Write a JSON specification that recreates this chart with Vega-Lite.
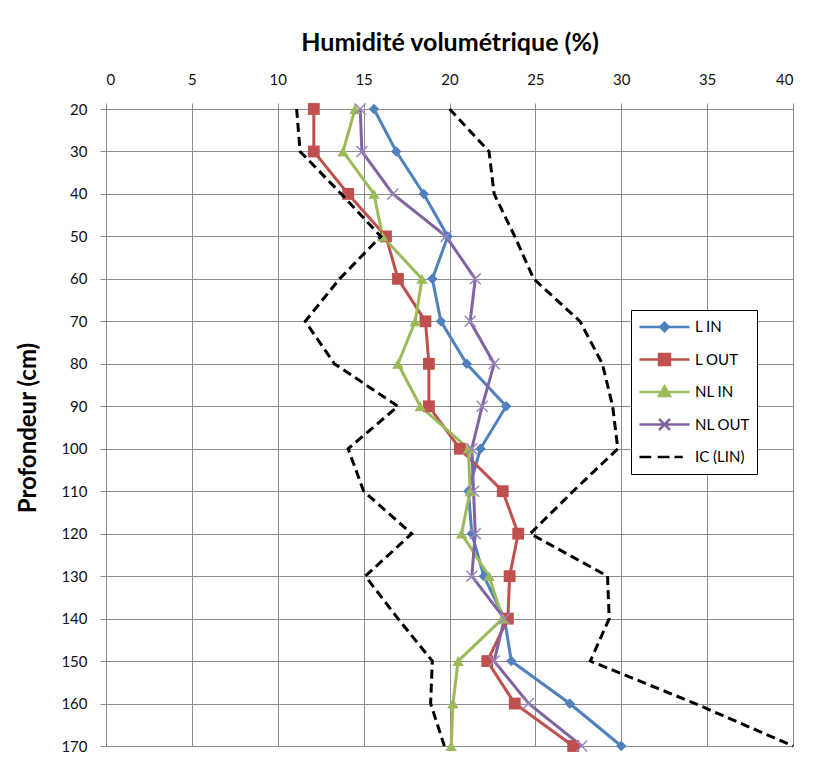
{
  "$schema": "https://vega.github.io/schema/vega-lite/v6.json",
  "width": 687,
  "height": 637,
  "autosize": "none",
  "padding": {"left": 106, "top": 109, "right": 20, "bottom": 33},
  "background": "white",
  "config": {
    "font": "Lato",
    "view": {"stroke": "#8c8c8c", "strokeWidth": 1},
    "axis": {
      "gridColor": "#8c8c8c", "gridWidth": 1, "gridOpacity": 1,
      "tickColor": "#8c8c8c", "tickWidth": 1, "domain": false,
      "labelFont": "Lato", "labelFontSize": 15, "labelColor": "#111111",
      "titleFont": "Lato", "titleFontSize": 24, "titleFontWeight": "bold", "titleColor": "#000000"
    },
    "legend": {
      "orient": "none", "legendX": 525, "legendY": 201,
      "strokeColor": "#000000", "fillColor": "white", "padding": 7,
      "symbolSize": 2500, "symbolStrokeWidth": 2.5, "symbolOpacity": 1,
      "labelFont": "Lato", "labelFontSize": 15, "labelColor": "#000000",
      "clipHeight": 20, "rowPadding": 12.5, "labelOffset": 4
    }
  },
  "datasets": {
    "obs": [
      {"depth": 20, "series": "L IN", "value": 15.6},
      {"depth": 30, "series": "L IN", "value": 16.9},
      {"depth": 40, "series": "L IN", "value": 18.5},
      {"depth": 50, "series": "L IN", "value": 19.9},
      {"depth": 60, "series": "L IN", "value": 19.0},
      {"depth": 70, "series": "L IN", "value": 19.5},
      {"depth": 80, "series": "L IN", "value": 21.0},
      {"depth": 90, "series": "L IN", "value": 23.3},
      {"depth": 100, "series": "L IN", "value": 21.8},
      {"depth": 110, "series": "L IN", "value": 21.1},
      {"depth": 120, "series": "L IN", "value": 21.3},
      {"depth": 130, "series": "L IN", "value": 22.0},
      {"depth": 140, "series": "L IN", "value": 23.2},
      {"depth": 150, "series": "L IN", "value": 23.6},
      {"depth": 160, "series": "L IN", "value": 27.0},
      {"depth": 170, "series": "L IN", "value": 30.0},
      {"depth": 20, "series": "L OUT", "value": 12.1},
      {"depth": 30, "series": "L OUT", "value": 12.1},
      {"depth": 40, "series": "L OUT", "value": 14.1},
      {"depth": 50, "series": "L OUT", "value": 16.3},
      {"depth": 60, "series": "L OUT", "value": 17.0},
      {"depth": 70, "series": "L OUT", "value": 18.6},
      {"depth": 80, "series": "L OUT", "value": 18.8},
      {"depth": 90, "series": "L OUT", "value": 18.8},
      {"depth": 100, "series": "L OUT", "value": 20.6},
      {"depth": 110, "series": "L OUT", "value": 23.1},
      {"depth": 120, "series": "L OUT", "value": 24.0},
      {"depth": 130, "series": "L OUT", "value": 23.5},
      {"depth": 140, "series": "L OUT", "value": 23.4},
      {"depth": 150, "series": "L OUT", "value": 22.2},
      {"depth": 160, "series": "L OUT", "value": 23.8},
      {"depth": 170, "series": "L OUT", "value": 27.2},
      {"depth": 20, "series": "NL IN", "value": 14.5},
      {"depth": 30, "series": "NL IN", "value": 13.8},
      {"depth": 40, "series": "NL IN", "value": 15.6},
      {"depth": 50, "series": "NL IN", "value": 16.1},
      {"depth": 60, "series": "NL IN", "value": 18.4},
      {"depth": 70, "series": "NL IN", "value": 18.0},
      {"depth": 80, "series": "NL IN", "value": 17.0},
      {"depth": 90, "series": "NL IN", "value": 18.3},
      {"depth": 100, "series": "NL IN", "value": 21.1},
      {"depth": 110, "series": "NL IN", "value": 21.2},
      {"depth": 120, "series": "NL IN", "value": 20.7},
      {"depth": 130, "series": "NL IN", "value": 22.3},
      {"depth": 140, "series": "NL IN", "value": 23.1},
      {"depth": 150, "series": "NL IN", "value": 20.5},
      {"depth": 160, "series": "NL IN", "value": 20.2},
      {"depth": 170, "series": "NL IN", "value": 20.1},
      {"depth": 20, "series": "NL OUT", "value": 14.8},
      {"depth": 30, "series": "NL OUT", "value": 14.9},
      {"depth": 40, "series": "NL OUT", "value": 16.7},
      {"depth": 50, "series": "NL OUT", "value": 19.8},
      {"depth": 60, "series": "NL OUT", "value": 21.5},
      {"depth": 70, "series": "NL OUT", "value": 21.2},
      {"depth": 80, "series": "NL OUT", "value": 22.6},
      {"depth": 90, "series": "NL OUT", "value": 21.9},
      {"depth": 100, "series": "NL OUT", "value": 21.3},
      {"depth": 110, "series": "NL OUT", "value": 21.4},
      {"depth": 120, "series": "NL OUT", "value": 21.5},
      {"depth": 130, "series": "NL OUT", "value": 21.3},
      {"depth": 140, "series": "NL OUT", "value": 23.2},
      {"depth": 150, "series": "NL OUT", "value": 22.6},
      {"depth": 160, "series": "NL OUT", "value": 24.6},
      {"depth": 170, "series": "NL OUT", "value": 27.7},
      {"depth": 20, "series": "IC (LIN)", "bound": "low", "value": 11.1},
      {"depth": 30, "series": "IC (LIN)", "bound": "low", "value": 11.3},
      {"depth": 40, "series": "IC (LIN)", "bound": "low", "value": 13.7},
      {"depth": 50, "series": "IC (LIN)", "bound": "low", "value": 16.0},
      {"depth": 60, "series": "IC (LIN)", "bound": "low", "value": 13.6},
      {"depth": 70, "series": "IC (LIN)", "bound": "low", "value": 11.6},
      {"depth": 80, "series": "IC (LIN)", "bound": "low", "value": 13.3},
      {"depth": 90, "series": "IC (LIN)", "bound": "low", "value": 17.0},
      {"depth": 100, "series": "IC (LIN)", "bound": "low", "value": 14.1},
      {"depth": 110, "series": "IC (LIN)", "bound": "low", "value": 15.0},
      {"depth": 120, "series": "IC (LIN)", "bound": "low", "value": 17.8},
      {"depth": 130, "series": "IC (LIN)", "bound": "low", "value": 15.1},
      {"depth": 140, "series": "IC (LIN)", "bound": "low", "value": 17.0},
      {"depth": 150, "series": "IC (LIN)", "bound": "low", "value": 19.0},
      {"depth": 160, "series": "IC (LIN)", "bound": "low", "value": 18.9},
      {"depth": 170, "series": "IC (LIN)", "bound": "low", "value": 19.7},
      {"depth": 20, "series": "IC (LIN)", "bound": "high", "value": 20.0},
      {"depth": 30, "series": "IC (LIN)", "bound": "high", "value": 22.3},
      {"depth": 40, "series": "IC (LIN)", "bound": "high", "value": 22.6},
      {"depth": 50, "series": "IC (LIN)", "bound": "high", "value": 23.8},
      {"depth": 60, "series": "IC (LIN)", "bound": "high", "value": 24.9},
      {"depth": 70, "series": "IC (LIN)", "bound": "high", "value": 27.6},
      {"depth": 80, "series": "IC (LIN)", "bound": "high", "value": 28.9},
      {"depth": 90, "series": "IC (LIN)", "bound": "high", "value": 29.5},
      {"depth": 100, "series": "IC (LIN)", "bound": "high", "value": 29.8},
      {"depth": 110, "series": "IC (LIN)", "bound": "high", "value": 27.2},
      {"depth": 120, "series": "IC (LIN)", "bound": "high", "value": 24.7},
      {"depth": 130, "series": "IC (LIN)", "bound": "high", "value": 29.2},
      {"depth": 140, "series": "IC (LIN)", "bound": "high", "value": 29.3},
      {"depth": 150, "series": "IC (LIN)", "bound": "high", "value": 28.2},
      {"depth": 160, "series": "IC (LIN)", "bound": "high", "value": 34.3},
      {"depth": 170, "series": "IC (LIN)", "bound": "high", "value": 40.0}
    ]
  },
  "data": {"name": "obs"},
  "encoding": {
    "x": {
      "field": "value", "type": "quantitative",
      "scale": {"domain": [0, 40], "nice": false, "zero": false},
      "axis": {"orient": "top", "values": [0, 5, 10, 15, 20, 25, 30, 35, 40], "title": "Humidité volumétrique (%)", "titleFontSize": 25, "tickSize": 6, "labelPadding": 16, "titlePadding": 17}
    },
    "y": {
      "field": "depth", "type": "quantitative",
      "scale": {"domain": [20, 170], "reverse": true, "nice": false, "zero": false},
      "axis": {"values": [20, 30, 40, 50, 60, 70, 80, 90, 100, 110, 120, 130, 140, 150, 160, 170], "title": "Profondeur (cm)", "tickSize": 6, "labelPadding": 13, "titlePadding": 20}
    }
  },
  "layer": [
    {
      "transform": [{"filter": "datum.series == 'L IN'"}],
      "mark": {"type": "line", "strokeWidth": 3, "color": "#4F81BD"},
      "encoding": {"order": {"field": "depth", "type": "quantitative"}}
    },
    {
      "transform": [{"filter": "datum.series == 'L OUT'"}],
      "mark": {"type": "line", "strokeWidth": 3, "color": "#C0504D"},
      "encoding": {"order": {"field": "depth", "type": "quantitative"}}
    },
    {
      "transform": [{"filter": "datum.series == 'NL IN'"}],
      "mark": {"type": "line", "strokeWidth": 3, "color": "#9BBB59"},
      "encoding": {"order": {"field": "depth", "type": "quantitative"}}
    },
    {
      "transform": [{"filter": "datum.series == 'NL OUT'"}],
      "mark": {"type": "line", "strokeWidth": 3, "color": "#8064A2"},
      "encoding": {"order": {"field": "depth", "type": "quantitative"}}
    },
    {
      "transform": [{"filter": "datum.series == 'L IN'"}],
      "mark": {"type": "point", "shape": "diamond", "filled": true, "size": 110, "color": "#4F81BD", "opacity": 1}
    },
    {
      "transform": [{"filter": "datum.series == 'L OUT'"}],
      "mark": {"type": "point", "shape": "square", "filled": true, "size": 140, "color": "#C0504D", "opacity": 1}
    },
    {
      "transform": [{"filter": "datum.series == 'NL IN'"}],
      "mark": {"type": "point", "shape": "triangle-up", "filled": true, "size": 130, "color": "#9BBB59", "opacity": 1}
    },
    {
      "transform": [{"filter": "datum.series == 'NL OUT'"}],
      "mark": {"type": "point", "shape": "M-1,-1L1,1M-1,1L1,-1", "filled": false, "size": 120, "color": "#9A86BD", "strokeWidth": 1.5, "opacity": 1}
    },
    {
      "transform": [{"filter": "datum.series == 'IC (LIN)'"}],
      "mark": {"type": "line", "strokeWidth": 3, "strokeDash": [9, 5], "color": "#000000"},
      "encoding": {
        "detail": {"field": "bound", "type": "nominal"},
        "order": {"field": "depth", "type": "quantitative"}
      }
    },
    {
      "transform": [{"filter": "datum.depth == 20 && datum.bound != 'high'"}],
      "mark": {"type": "point", "opacity": 0},
      "encoding": {
        "fill": {"field": "series", "type": "nominal",
          "scale": {"domain": ["L IN", "L OUT", "NL IN", "NL OUT", "IC (LIN)"], "range": ["#4F81BD", "#C0504D", "#9BBB59", "#8064A2", "#000000"]},
          "legend": {"title": null}},
        "stroke": {"field": "series", "type": "nominal",
          "scale": {"domain": ["L IN", "L OUT", "NL IN", "NL OUT", "IC (LIN)"], "range": ["#4F81BD", "#C0504D", "#9BBB59", "#8064A2", "#000000"]},
          "legend": {"title": null}},
        "shape": {"field": "series", "type": "nominal",
          "scale": {"domain": ["L IN", "L OUT", "NL IN", "NL OUT", "IC (LIN)"],
            "range": [
              "M-1,0L1,0M-0.17,0L0,-0.17L0.17,0L0,0.17Z",
              "M-1,0L1,0M-0.22,-0.22L0.22,-0.22L0.22,0.22L-0.22,0.22Z",
              "M-1,0L1,0M0,-0.22L0.22,0.16L-0.22,0.16Z",
              "M-1,0L1,0M-0.22,-0.22L0.22,0.22M-0.22,0.22L0.22,-0.22",
              "M-1,0L-0.53,0M-0.27,0L0.2,0M0.4,0L0.73,0"
            ]},
          "legend": {"title": null}}
      }
    }
  ]
}
